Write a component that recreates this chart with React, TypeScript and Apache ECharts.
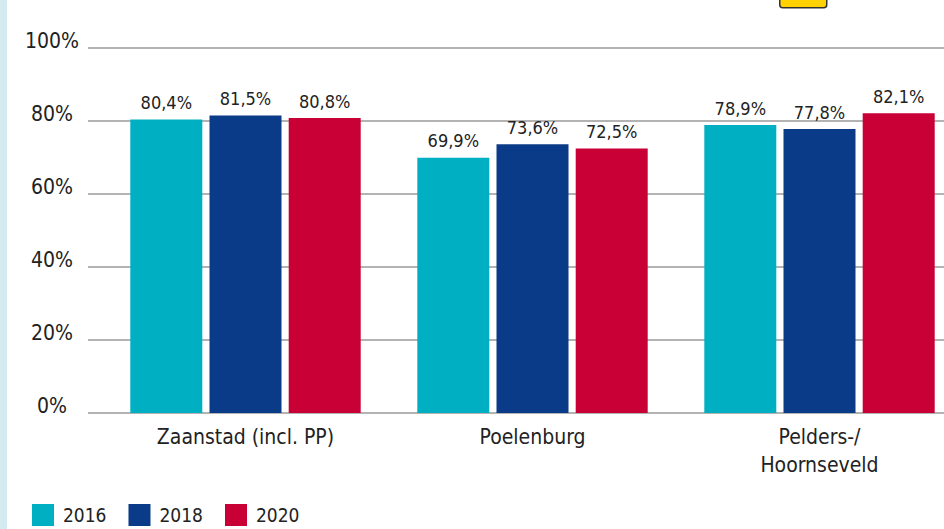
import React, { useEffect, useRef } from "react";
import * as echarts from "echarts";

const categories = ["Zaanstad (incl. PP)", "Poelenburg", "Pelders-/\nHoornseveld"];
const years = ["2016", "2018", "2020"];
const values2016 = [80.4, 69.9, 78.9];
const values2018 = [81.5, 73.6, 77.8];
const values2020 = [80.8, 72.5, 82.1];
const colors = ["#00afc2", "#0a3b88", "#c80036"];
const yTicks = [0, 20, 40, 60, 80, 100];

const FONT = "DejaVu Sans Condensed";

export default function App() {
  const ref = useRef<HTMLDivElement>(null);
  useEffect(() => {
    if (!ref.current) return;
    const chart = echarts.init(ref.current, undefined, { renderer: "svg" });
    const seriesData = [values2016, values2018, values2020];
    chart.setOption({
      animation: false,
      backgroundColor: "#ffffff",
      textStyle: { fontFamily: FONT },
      graphic: [
        { type: "rect", left: 0, top: 0, shape: { width: 7, height: 529 }, style: { fill: "#d3ebf0" } },
        {
          type: "rect",
          left: 779,
          top: -10,
          shape: { width: 47, height: 17, r: 3 },
          style: { fill: "#ffd200", stroke: "#333", lineWidth: 1.5 },
        },
      ],
      legend: {
        left: 32,
        top: 504,
        padding: 0,
        itemWidth: 22,
        itemHeight: 22,
        itemGap: 22,
        icon: "rect",
        data: years,
        textStyle: { fontFamily: FONT, fontSize: 19, color: "#222", padding: [0, 0, 0, 4] },
      },
      grid: [
        { left: 102, width: 861, top: 48, bottom: 116 },
        { left: 88, right: 0, top: 48, bottom: 116 },
      ],
      xAxis: [
        {
          type: "category",
          gridIndex: 0,
          data: categories,
          axisLine: { show: false },
          axisTick: { show: false },
          axisLabel: {
            margin: 10,
            fontFamily: FONT,
            fontSize: 21,
            color: "#222",
            lineHeight: 28,
          },
        },
        { type: "value", gridIndex: 1, show: false },
      ],
      yAxis: [
        { type: "value", gridIndex: 0, min: 0, max: 100, interval: 20, show: false },
        {
          type: "value",
          gridIndex: 1,
          min: 0,
          max: 100,
          interval: 20,
          axisLine: { show: false },
          axisTick: { show: false },
          splitLine: { show: true, lineStyle: { color: "#b3b3b3", width: 2 } },
          axisLabel: {
            formatter: (v: number) => (yTicks.includes(v) ? v + "%" : ""),
            margin: 36,
            align: "center",
            verticalAlign: "bottom",
            lineHeight: 14,
            fontFamily: FONT,
            fontSize: 21,
            color: "#222",
          },
        },
      ],
      series: years.map((y, i) => ({
        name: y,
        type: "bar",
        xAxisIndex: 0,
        yAxisIndex: 0,
        data: seriesData[i],
        barWidth: 72,
        barGap: "10%",
        itemStyle: { color: colors[i] },
        label: {
          show: true,
          position: "top",
          distance: 8,
          fontFamily: FONT,
          fontSize: 18,
          color: "#222",
          formatter: (p: any) => p.value.toFixed(1).replace(".", ",") + "%",
        },
      })),
    });
    return () => chart.dispose();
  }, []);
  return (
    <div style={{ position: "fixed", left: 0, top: 0, width: 944, height: 529, overflow: "hidden" }}>
      <div ref={ref} style={{ width: 970, height: 529 }} />
    </div>
  );
}
